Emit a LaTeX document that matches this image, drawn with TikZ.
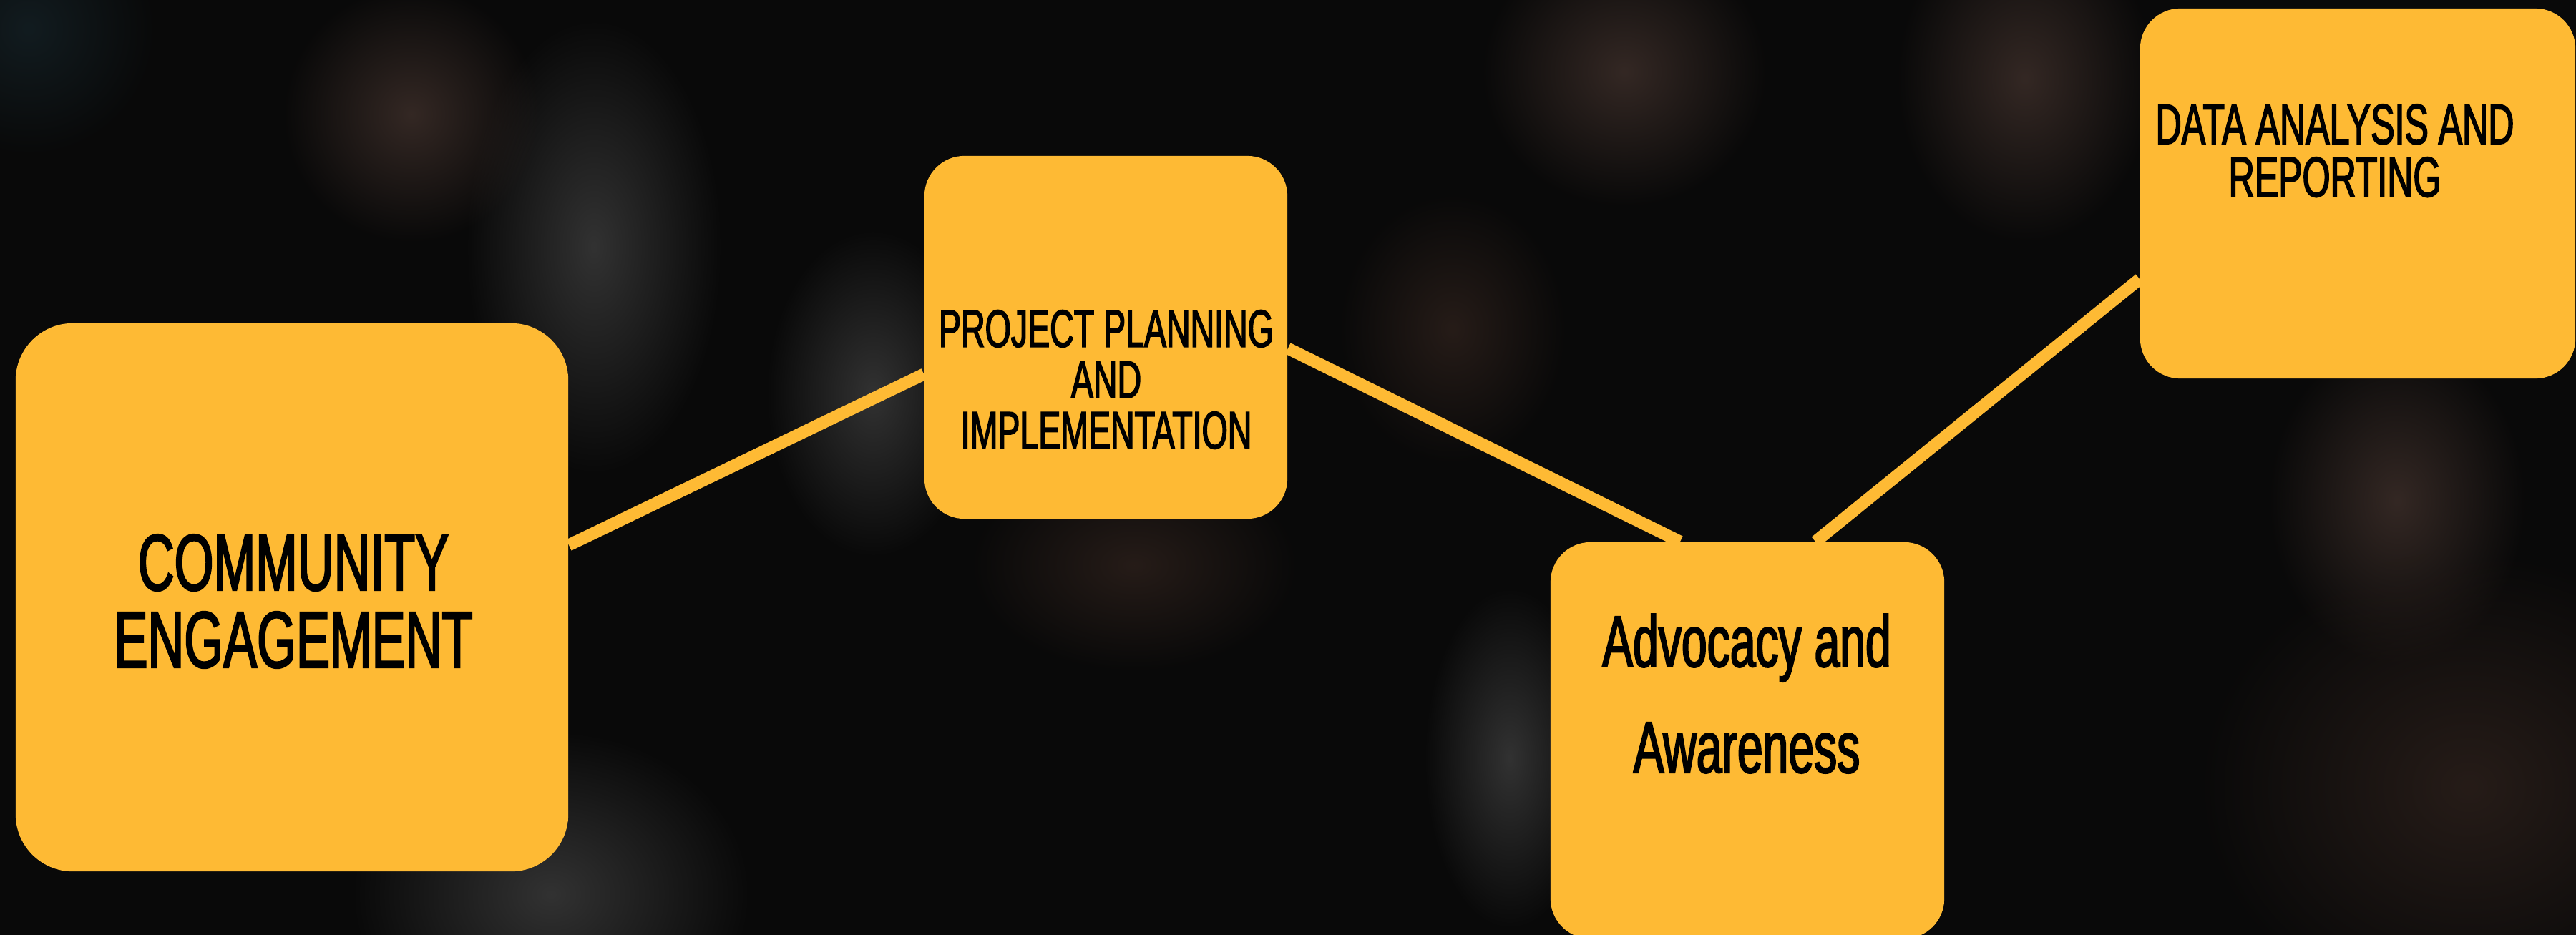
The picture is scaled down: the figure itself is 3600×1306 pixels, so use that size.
\documentclass[tikz,border=0pt]{standalone}
\usepackage{fontspec}
\usetikzlibrary{fadings}
\newfontfamily\oswald[FakeStretch=0.63,FakeBold=2]{Liberation Sans}
\definecolor{bg}{RGB}{9,9,9}
\definecolor{amber}{RGB}{254,186,52}
\definecolor{smoke}{RGB}{50,50,50}
\definecolor{umber}{RGB}{52,40,36}
\definecolor{dusk}{RGB}{38,28,24}
\definecolor{slate}{RGB}{18,28,32}
\tikzfading[name=haze,inner color=transparent!0,outer color=transparent!100]

\begin{document}
\begin{tikzpicture}[x=0.01cm,y=-0.01cm,
    box/.style={fill=amber,rounded corners=.56cm,inner sep=0pt},
    txt/.style={anchor=base,align=center,inner sep=0pt,text=black},
    link/.style={draw=amber,line width=.17cm}]
  \useasboundingbox (0,0) rectangle (3600,1306);
  \clip (-20,-20) rectangle (3620,1326);
  \fill[bg] (-20,-20) rectangle (3620,1326);
  \foreach \x/\y/\rx/\ry/\c in {830/345/180/320/smoke, 1220/550/150/230/smoke, 575/160/180/180/umber,
      770/1250/280/230/smoke, 2270/100/200/190/umber, 2830/110/180/230/umber, 3350/700/180/230/umber,
      2030/460/160/190/dusk, 1585/790/230/150/dusk, 3450/1100/380/330/dusk, 2110/1060/120/240/smoke,
      40/40/180/180/slate}
    \fill[\c,path fading=haze] (\x,\y) ellipse ({\rx} and {\ry});
  \node[box,rounded corners=.8cm,minimum width=7.72cm,minimum height=7.66cm] (ce) at (408,835) {};
  \node[box,minimum width=5.07cm,minimum height=5.07cm] (pp) at (1545.5,471.5) {};
  \node[box,minimum width=5.5cm,minimum height=5.54cm] (adv) at (2442,1035) {};
  \node[box,minimum width=6.08cm,minimum height=5.17cm] (da) at (3295,270.5) {};
  \draw[link] ([yshift=.73cm]ce.east) -- ([yshift=-.515cm]pp.west);
  \draw[link] ([yshift=-.155cm]pp.east) -- ([xshift=-.94cm]adv.north);
  \draw[link] ([xshift=.95cm]adv.north) -- ([yshift=-1.195cm]da.west);
  \node[txt,font=\oswald\fontsize{31.8}{30.7}\selectfont] (ce-t) at (410,933) {COMMUNITY\\ENGAGEMENT};
  \node[txt,font=\oswald\fontsize{21}{20.2}\selectfont] (pp-t) at (1546,627) {PROJECT PLANNING\\AND\\IMPLEMENTATION};
  \node[txt,font=\oswald\fontsize{29}{42.1}\selectfont] (adv-t) at (2441,1080) {Advocacy and\\Awareness};
  \node[txt,font=\oswald\fontsize{22.6}{21}\selectfont] (da-t) at (3263,275) {DATA ANALYSIS AND\\REPORTING};
\end{tikzpicture}
\end{document}
